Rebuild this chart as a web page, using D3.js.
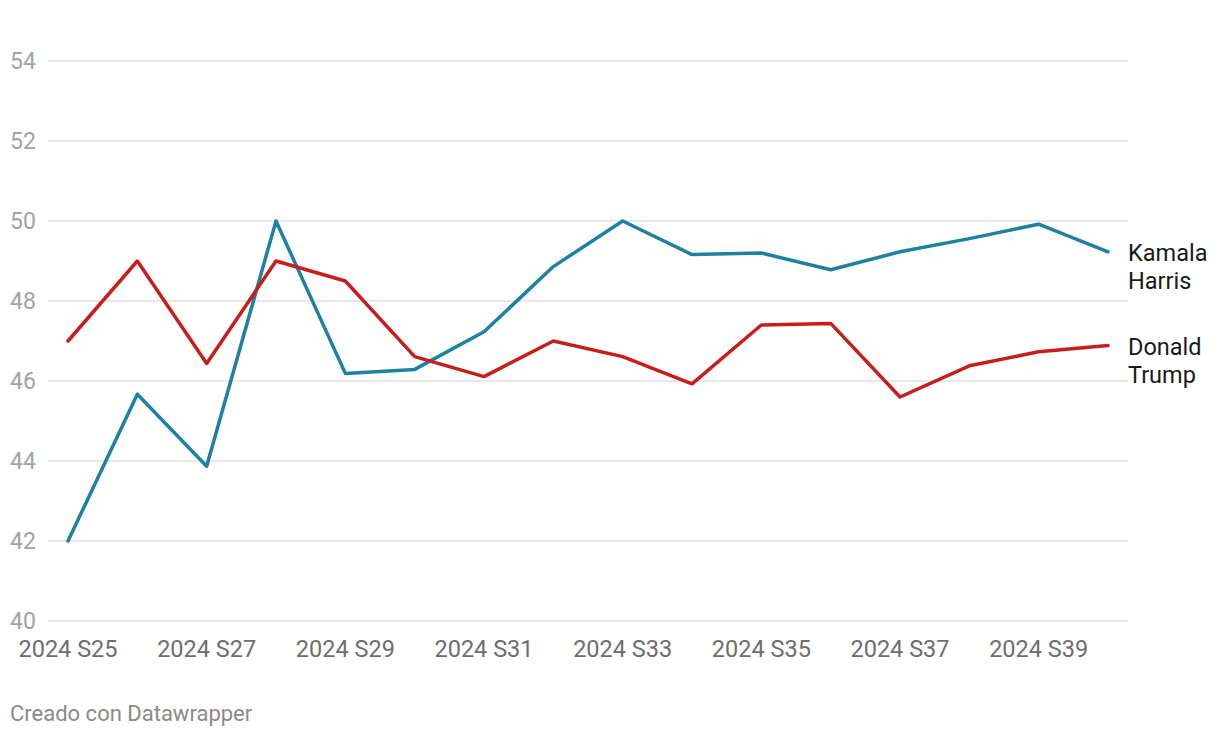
<!DOCTYPE html>
<html>
<head>
<meta charset="utf-8">
<script src="https://cdn.jsdelivr.net/npm/d3@7"></script>
<style>
  body { margin: 0; background: #fff; font-family: Roboto, sans-serif; }
</style>
</head>
<body>
<div id="chart"></div>
<script>

// data
var weeks = ["S25","S26","S27","S28","S29","S30","S31","S32","S33","S34","S35","S36","S37","S38","S39","S40"];
var harris = [42.0, 45.67, 43.87, 50.0, 46.19, 46.29, 47.23, 48.86, 50.0, 49.16, 49.2, 48.78, 49.23, 49.56, 49.92, 49.23];
var trump  = [47.0, 49.0, 46.44, 49.0, 48.5, 46.61, 46.11, 47.0, 46.61, 45.93, 47.4, 47.44, 45.6, 46.38, 46.73, 46.89];
var yTicks = [40, 42, 44, 46, 48, 50, 52, 54];
var xTicks = ["S25","S27","S29","S31","S33","S35","S37","S39"];

var W = 1220, H = 738;

var svg = d3.select("#chart")
  .append("svg")
    .attr("width", W)
    .attr("height", H);

var x = d3.scalePoint()
  .domain(weeks)
  .range([68, 1108]);

var y = d3.scaleLinear()
  .domain([40, 54])
  .range([621, 61]);

// gridlines + y labels
var yAxis = svg.append("g");
yAxis.selectAll("line")
  .data(yTicks)
  .enter().append("line")
    .attr("x1", 48)
    .attr("x2", 1128)
    .attr("y1", function(d) { return y(d) })
    .attr("y2", function(d) { return y(d) })
    .style("stroke", "#e2e2e2")
    .style("stroke-width", 1.5);
yAxis.selectAll("text")
  .data(yTicks)
  .enter().append("text")
    .attr("x", 10)
    .attr("y", function(d) { return y(d) })
    .attr("dy", "0.36em")
    .style("font-size", "23px")
    .style("fill", "#a3a3a3")
    .text(function(d) { return d });

// x labels
svg.append("g")
  .selectAll("text")
  .data(xTicks)
  .enter().append("text")
    .attr("x", function(d) { return x(d) })
    .attr("y", 657)
    .attr("text-anchor", "middle")
    .style("font-size", "23.5px")
    .style("fill", "#6e6e6e")
    .text(function(d) { return "2024 " + d });

var line = d3.line()
  .x(function(d, i) { return x(weeks[i]) })
  .y(function(d) { return y(d) });

var series = [
  {name: ["Kamala", "Harris"], values: harris, color: "#1d81a2"},
  {name: ["Donald", "Trump"], values: trump, color: "#c71e1d"}
];

series.forEach(function(s) {
  svg.append("path")
    .datum(s.values)
    .attr("d", line)
    .style("fill", "none")
    .style("stroke", s.color)
    .style("stroke-width", 3.5)
    .style("stroke-linejoin", "round")
    .style("stroke-linecap", "round");

  var last = s.values[s.values.length - 1];
  var t = svg.append("text")
    .attr("x", 1128)
    .attr("y", y(last) + 1)
    .attr("dy", "0.36em")
    .style("font-size", "23.5px")
    .style("fill", "#1a1a1a");
  t.selectAll("tspan")
    .data(s.name)
    .enter().append("tspan")
      .attr("x", 1128)
      .attr("dy", function(d, i) { return i == 0 ? "0.36em" : 28 })
      .text(function(d) { return d });
});

// footer
svg.append("text")
  .attr("x", 10)
  .attr("y", 721)
  .style("font-size", "22px")
  .style("fill", "#8a8a8a")
  .text("Creado con Datawrapper");

</script>
</body>
</html>
